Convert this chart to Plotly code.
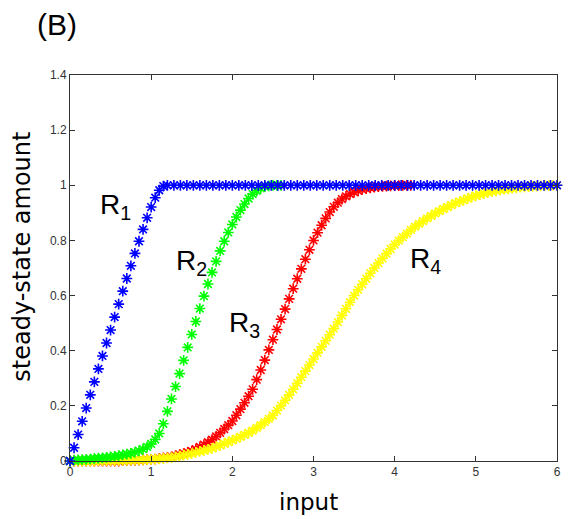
import plotly.graph_objects as go

# ---------------- data ----------------
input_grid = [
    0.00, 0.05, 0.10, 0.15, 0.20, 0.25, 0.30, 0.35, 0.40, 0.45,
    0.50, 0.55, 0.60, 0.65, 0.70, 0.75, 0.80, 0.85, 0.90, 0.95,
    1.00, 1.05, 1.10, 1.15, 1.20, 1.25, 1.30, 1.35, 1.40, 1.45,
    1.50, 1.55, 1.60, 1.65, 1.70, 1.75, 1.80, 1.85, 1.90, 1.95,
    2.00, 2.05, 2.10, 2.15, 2.20, 2.25, 2.30, 2.35, 2.40, 2.45,
    2.50, 2.55, 2.60, 2.65, 2.70, 2.75, 2.80, 2.85, 2.90, 2.95,
    3.00, 3.05, 3.10, 3.15, 3.20, 3.25, 3.30, 3.35, 3.40, 3.45,
    3.50, 3.55, 3.60, 3.65, 3.70, 3.75, 3.80, 3.85, 3.90, 3.95,
    4.00, 4.05, 4.10, 4.15, 4.20, 4.25, 4.30, 4.35, 4.40, 4.45,
    4.50, 4.55, 4.60, 4.65, 4.70, 4.75, 4.80, 4.85, 4.90, 4.95,
    5.00, 5.05, 5.10, 5.15, 5.20, 5.25, 5.30, 5.35, 5.40, 5.45,
    5.50, 5.55, 5.60, 5.65, 5.70, 5.75, 5.80, 5.85, 5.90, 5.95,
    6.00,
]

R4_amount = [
    0.000, 0.000, 0.000, 0.000, 0.000, 0.000, 0.000, 0.001, 0.001, 0.001,
    0.001, 0.001, 0.002, 0.002, 0.002, 0.003, 0.003, 0.004, 0.004, 0.005,
    0.006, 0.007, 0.008, 0.009, 0.011, 0.012, 0.015, 0.018, 0.021, 0.024,
    0.027, 0.031, 0.035, 0.038, 0.042, 0.046, 0.051, 0.057, 0.063, 0.069,
    0.075, 0.081, 0.088, 0.095, 0.102, 0.110, 0.120, 0.130, 0.141, 0.153,
    0.165, 0.183, 0.201, 0.220, 0.240, 0.260, 0.282, 0.304, 0.326, 0.348,
    0.370, 0.392, 0.414, 0.436, 0.458, 0.480, 0.504, 0.528, 0.552, 0.576,
    0.600, 0.621, 0.641, 0.661, 0.681, 0.700, 0.718, 0.735, 0.752, 0.769,
    0.785, 0.799, 0.812, 0.825, 0.838, 0.850, 0.860, 0.870, 0.880, 0.889,
    0.898, 0.906, 0.914, 0.921, 0.928, 0.935, 0.941, 0.946, 0.952, 0.957,
    0.962, 0.966, 0.970, 0.974, 0.977, 0.980, 0.983, 0.985, 0.987, 0.989,
    0.991, 0.993, 0.994, 0.995, 0.996, 0.997, 0.998, 0.999, 0.999, 1.000,
    1.000,
]

R3_amount = [
    0.000, 0.000, 0.000, 0.000, 0.000, 0.000, 0.000, 0.000, 0.000, 0.000,
    0.000, 0.000, 0.000, 0.001, 0.001, 0.002, 0.002, 0.003, 0.004, 0.005,
    0.006, 0.007, 0.009, 0.011, 0.013, 0.015, 0.019, 0.023, 0.027, 0.031,
    0.036, 0.043, 0.051, 0.059, 0.068, 0.077, 0.089, 0.102, 0.116, 0.130,
    0.145, 0.166, 0.188, 0.211, 0.235, 0.260, 0.295, 0.330, 0.366, 0.403,
    0.440, 0.477, 0.514, 0.551, 0.588, 0.625, 0.661, 0.697, 0.732, 0.766,
    0.800, 0.828, 0.855, 0.880, 0.903, 0.922, 0.937, 0.950, 0.960, 0.968,
    0.975, 0.980, 0.985, 0.988, 0.991, 0.993, 0.995, 0.996, 0.997, 0.998,
    0.999, 0.999, 1.000, 1.000, 1.000,
]

R2_amount = [
    0.000, 0.003, 0.004, 0.005, 0.006, 0.007, 0.009, 0.010, 0.011, 0.013,
    0.015, 0.017, 0.019, 0.022, 0.025, 0.028, 0.032, 0.037, 0.043, 0.051,
    0.062, 0.078, 0.100, 0.135, 0.180, 0.225, 0.270, 0.317, 0.365, 0.412,
    0.459, 0.506, 0.553, 0.598, 0.642, 0.684, 0.724, 0.762, 0.797, 0.829,
    0.858, 0.885, 0.910, 0.932, 0.952, 0.968, 0.980, 0.989, 0.995, 0.998,
    1.000, 1.000, 1.000,
]

R1_input = [
    0.00, 0.05, 0.10, 0.15, 0.20, 0.25, 0.30, 0.35, 0.40, 0.45,
    0.50, 0.55, 0.60, 0.65, 0.70, 0.75, 0.80, 0.85, 0.90, 0.95,
    1.00, 1.05, 1.10, 1.15,
    1.20, 1.28, 1.36, 1.44, 1.52, 1.60, 1.68, 1.76, 1.84, 1.92,
    2.00, 2.08, 2.16, 2.24, 2.32, 2.40, 2.48, 2.56, 2.64, 2.72,
    2.80, 2.88, 2.96, 3.04, 3.12, 3.20, 3.28, 3.36, 3.44, 3.52,
    3.60, 3.68, 3.76, 3.84, 3.92, 4.00, 4.08, 4.16, 4.24, 4.32,
    4.40, 4.48, 4.56, 4.64, 4.72, 4.80, 4.88, 4.96, 5.04, 5.12,
    5.20, 5.28, 5.36, 5.44, 5.52, 5.60, 5.68, 5.76, 5.84, 5.92,
    6.00,
]

R1_amount = [
    0.000, 0.048, 0.096, 0.144, 0.192, 0.240, 0.287, 0.334, 0.381, 0.428,
    0.475, 0.522, 0.569, 0.616, 0.662, 0.708, 0.753, 0.797, 0.840, 0.882,
    0.921, 0.955, 0.982, 0.997,
    1.0, 1.0, 1.0, 1.0, 1.0, 1.0, 1.0, 1.0, 1.0, 1.0,
    1.0, 1.0, 1.0, 1.0, 1.0, 1.0, 1.0, 1.0, 1.0, 1.0,
    1.0, 1.0, 1.0, 1.0, 1.0, 1.0, 1.0, 1.0, 1.0, 1.0,
    1.0, 1.0, 1.0, 1.0, 1.0, 1.0, 1.0, 1.0, 1.0, 1.0,
    1.0, 1.0, 1.0, 1.0, 1.0, 1.0, 1.0, 1.0, 1.0, 1.0,
    1.0, 1.0, 1.0, 1.0, 1.0, 1.0, 1.0, 1.0, 1.0, 1.0,
    1.0,
]

x_ticks = [0, 1, 2, 3, 4, 5, 6]
y_ticks = [0, 0.2, 0.4, 0.6, 0.8, 1.0, 1.2, 1.4]
y_tick_labels = ["0", "0.2", "0.4", "0.6", "0.8", "1", "1.2", "1.4"]

# ---------------- figure ----------------
series = [
    ("R3", input_grid[:len(R3_amount)], R3_amount, "#ff0000"),
    ("R4", input_grid[:len(R4_amount)], R4_amount, "#ffff00"),
    ("R2", input_grid[:len(R2_amount)], R2_amount, "#00ff00"),
    ("R1", R1_input, R1_amount, "#0000ff"),
]

fig = go.Figure()
for name, xs, ys, col in series:
    fig.add_trace(go.Scatter(
        x=xs, y=ys, mode="markers", name=name, cliponaxis=False,
        marker=dict(symbol="asterisk-open", size=9, color=col,
                    line=dict(color=col, width=1.6)),
    ))

label_font = dict(family="Liberation Sans, Arial, sans-serif", size=28, color="black")
labels = [("R<sub>1</sub>", 0.34, 0.936), ("R<sub>2</sub>", 1.28, 0.736),
          ("R<sub>3</sub>", 1.93, 0.508), ("R<sub>4</sub>", 4.16, 0.74)]
for txt, lx, ly in labels:
    fig.add_annotation(x=lx, y=ly, text=txt, showarrow=False, xanchor="left",
                       yanchor="middle", font=label_font, yshift=-4)

title_font = dict(family="Comic Sans MS, DejaVu Sans, sans-serif", size=23, color="black")
fig.add_annotation(xref="paper", yref="paper", x=0.49, y=-0.106, text="input",
                   showarrow=False, xanchor="center", yanchor="middle", font=title_font)
fig.add_annotation(xref="paper", yref="paper", x=-0.098, y=0.53, text="steady-state amount",
                   showarrow=False, xanchor="center", yanchor="middle", textangle=-90,
                   font=dict(family="Comic Sans MS, DejaVu Sans, sans-serif", size=24,
                             color="black"))
fig.add_annotation(xref="paper", yref="paper", x=-0.026, y=1.13, text="(B)",
                   showarrow=False, xanchor="center", yanchor="middle",
                   font=dict(family="Liberation Sans, Arial, sans-serif", size=30, color="black"))

axis_common = dict(showline=True, linecolor="#333333", linewidth=1, mirror="ticks",
                   ticks="inside", ticklen=5, tickcolor="#333333", showgrid=False,
                   zeroline=False,
                   tickfont=dict(family="Liberation Sans, Arial, sans-serif", size=12,
                                 color="#333333"))
fig.update_xaxes(range=[0, 6], tickvals=x_ticks, **axis_common)
fig.update_yaxes(range=[0, 1.4], tickvals=y_ticks, ticktext=y_tick_labels, **axis_common)

# the page body adds an 8 px offset, so the figure is 8 px smaller than the window
fig.update_layout(
    width=563, height=511, showlegend=False,
    margin=dict(l=62, r=10, t=67, b=58),
    paper_bgcolor="white", plot_bgcolor="white",
)

fig.write_html("out.html")
